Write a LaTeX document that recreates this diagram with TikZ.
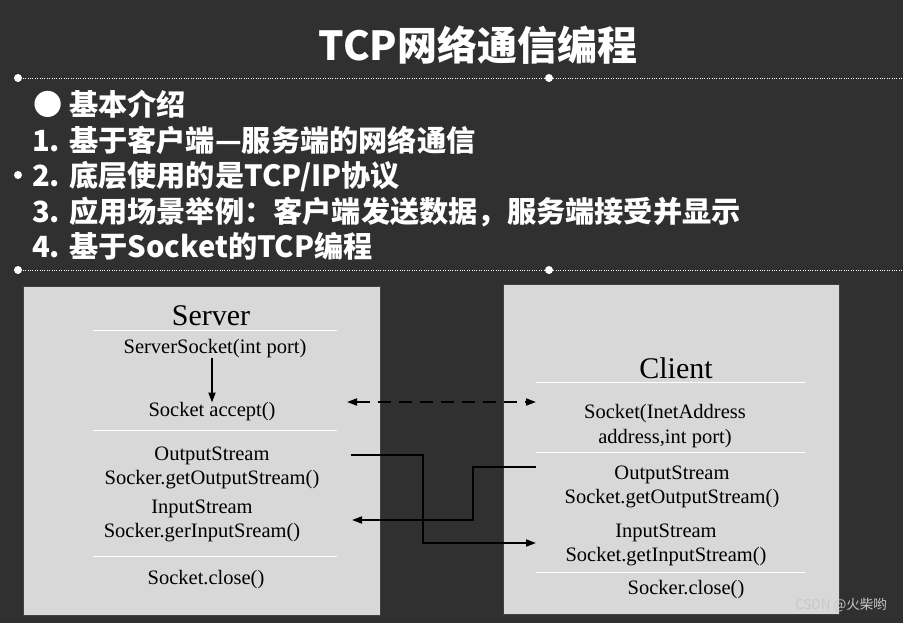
\documentclass[tikz,border=0pt]{standalone}
\usepackage{fontspec}
\setmainfont{Liberation Serif}
\newfontfamily\cjk{Noto Sans CJK SC}
\usetikzlibrary{arrows.meta}
\definecolor{board}{RGB}{48,48,48}
\definecolor{panel}{RGB}{216,216,216}
\definecolor{mark}{RGB}{200,200,200}
\tikzstyle{panelbox} = [draw=black!75, fill=panel, line width=1pt]
\tikzstyle{heading} = [font=\fontsize{30}{32}\selectfont, inner sep=0pt]
\tikzstyle{call} = [font=\fontsize{20.5}{24.5}\selectfont, align=center, inner sep=0pt]
\tikzstyle{rule} = [white, line width=1pt]
\tikzstyle{slide} = [font=\cjk\bfseries\fontsize{29.2}{32}\selectfont, text=white, anchor=west, inner sep=0pt]
\tikzstyle{arrow} = [line width=1.8pt, -{Triangle[length=10pt,width=7pt]}]
\tikzstyle{handle} = [fill=white, draw=none]

\begin{document}
\begin{tikzpicture}[x=1pt, y=-1pt]
    \useasboundingbox (0,0) rectangle (903,623);
    \fill[board] (0,0) rectangle (903,623);
    % slide title and text
    \node[font=\cjk\bfseries\fontsize{40}{44}\selectfont, text=white, inner sep=0pt] (title) at (478,45) {TCP网络通信编程};
    \draw[white!50, dotted] (18,78) -- (903,78);
    \draw[white!50, dotted] (18,270) -- (903,270);
    \foreach \hx/\hy in {18/78, 549/78, 18/270, 549/270, 18/175}
        \fill[handle] (\hx,\hy) circle (4);
    \node[slide] (intro) at (33,104) {● 基本介绍};
    \node[slide] (item1) at (32,140) {1. 基于客户端—服务端的网络通信};
    \node[slide] (item2) at (32,177) {2. 底层使用的是TCP/IP协议};
    \node[slide] (item3) at (32,212) {3. 应用场景举例：客户端发送数据，服务端接受并显示};
    \node[slide] (item4) at (32,246) {4. 基于Socket的TCP编程};

    % server side
    \draw[panelbox] (23,286) rectangle (380,615);
    \node[heading] (server) at (211,316) {Server};
    \draw[rule] (93,330) -- (337,330);
    \node[call] (ssock) at (215,349) {ServerSocket(int port)};
    \node[call] (accept) at (212,412) {Socket accept()};
    \draw[rule] (93,430) -- (337,430);
    \node[call] (sout) at (212,468) {OutputStream\\Socker.getOutputStream()};
    \node[call] (sin) at (202,521) {InputStream\\Socker.gerInputSream()};
    \draw[rule] (93,556) -- (337,556);
    \node[call] (sclose) at (206,580) {Socket.close()};

    % client side
    \draw[panelbox] (503,284) rectangle (839,614);
    \node[heading] (client) at (676,368) {Client};
    \draw[rule] (536,382) -- (806,382);
    \node[call] (csock) at (665,426) {Socket(InetAddress\\address,int port)};
    \draw[rule] (536,452) -- (806,452);
    \node[call] (cout) at (672,487) {OutputStream\\Socket.getOutputStream()};
    \node[call] (cin) at (666,545) {InputStream\\Socket.getInputStream()};
    \draw[rule] (536,572) -- (806,572);
    \node[call] (cclose) at (686,590) {Socker.close()};

    % connection ends
    \coordinate (sport) at (347,402);
    \coordinate (cport) at (536,402);
    \coordinate (sfrom) at (351,455);
    \coordinate (cto) at (536,543);
    \coordinate (cfrom) at (536,467);
    \coordinate (sto) at (352,520);

    \draw[arrow] (ssock.south -| accept.north) -- (accept.north);
    \draw[arrow, {Triangle[length=10pt,width=7pt]}-{Triangle[length=10pt,width=7pt]}, dash pattern=on 13pt off 8pt] (sport) -- (cport);
    \draw[arrow] (sfrom) -- ++(72,0) |- (cto);
    \draw[arrow] (cfrom) -- ++(-63,0) |- (sto);

    \node[font=\cjk\fontsize{13.5}{15}\selectfont, text=mark, anchor=east, inner sep=0pt] (credit) at (887,605) {CSDN @火柴哟};
\end{tikzpicture}
\end{document}
